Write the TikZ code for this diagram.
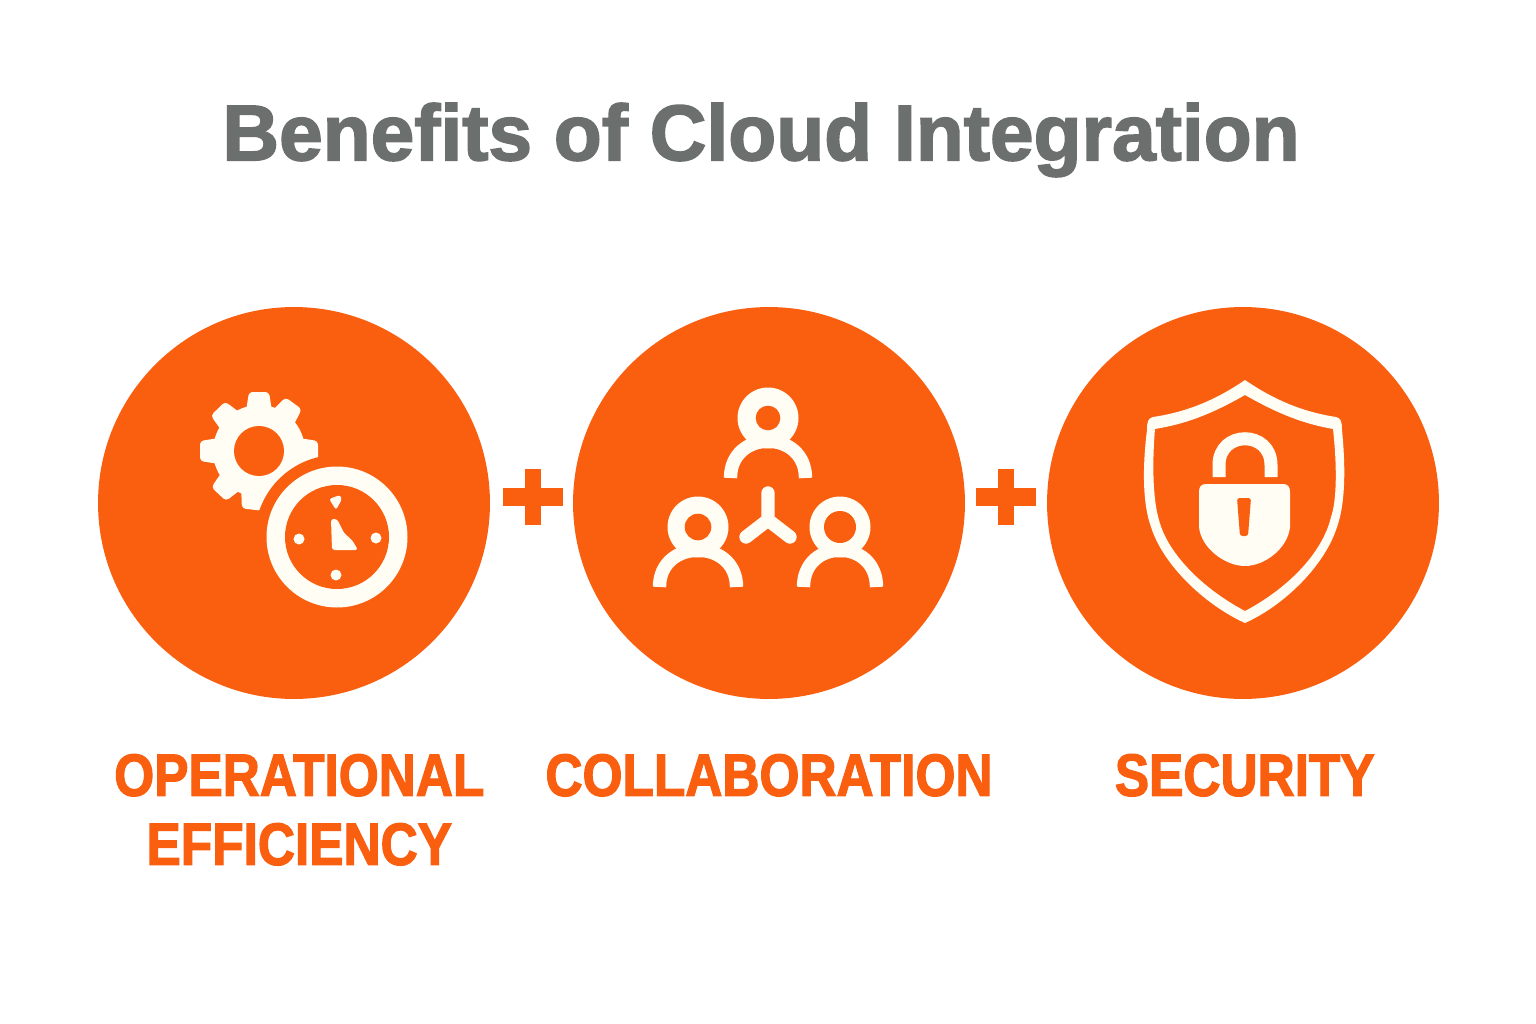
\documentclass[tikz,border=0pt]{standalone}
\usepackage{fontspec}
\setmainfont{Liberation Sans}
\newfontface\titlefont[FakeBold=2,FakeStretch=0.993]{Liberation Sans Bold}
\newfontface\capfont[FakeBold=2,FakeStretch=0.86]{Liberation Sans Bold}
\usetikzlibrary{positioning}
\definecolor{brandorange}{HTML}{FA5E0F}
\definecolor{iconcream}{HTML}{FFFDF4}
\definecolor{titlegray}{HTML}{6B6F6E}
\tikzset{
  bigdisc/.style={circle,fill=brandorange,minimum size=7.84cm,inner sep=0pt},
  plusmark/.style={minimum width=0pt,minimum height=0pt,inner sep=0pt},
  caption/.style={text=brandorange,font=\fontsize{34}{39.3}\capfont,align=center,anchor=north,inner sep=0pt},
  iconline/.style={draw=iconcream,line width=7.6pt}
}
\begin{document}
\begin{tikzpicture}[x=0.02cm,y=-0.02cm]
\useasboundingbox (0,0) rectangle (1536,1024);
\fill[white] (0,0) rectangle (1536,1024);

\node (title) at (761,140) [text=titlegray,font=\fontsize{45}{50}\titlefont] {Benefits of Cloud Integration};

\foreach \n/\x in {1/294, 2/769, 3/1243} {
\node (disc\n) at (\x,503) [bigdisc] {};
}
\node (cap1) [caption,below=31pt of disc1,xshift=3pt] {OPERATIONAL\\EFFICIENCY};
\node (cap2) [caption,below=31pt of disc2] {COLLABORATION};
\node (cap3) [caption,below=31pt of disc3,xshift=1pt] {SECURITY};

% plus signs
\foreach \n/\x in {1/533, 2/1006} {
\node (plus\n) at (\x,497) [plusmark] {};
\fill[brandorange] ([xshift=-17pt,yshift=-5.1pt]plus\n.center) rectangle ([xshift=17pt,yshift=5.1pt]plus\n.center);
\fill[brandorange] ([xshift=-4.3pt,yshift=-15.7pt]plus\n.center) rectangle ([xshift=4.3pt,yshift=15.7pt]plus\n.center);
}

% gear
\foreach \a in {0,54,90,134,180,227,263,315} {
\fill[iconcream,rounded corners=2pt,shift={(259,451)},rotate=\a] (40,-13) -- (59,-10) -- (59,10) -- (40,13) -- cycle;
}
\fill[iconcream] (259,451) circle (46);
\fill[brandorange] (259,451) circle (25);
\fill[brandorange] (337,537) circle (82);

% clock
\fill[iconcream] (337,537) circle (70.5);
\fill[brandorange] (337,537) circle (52);
\foreach \x/\y in {299/539, 376/538, 336/575} {
\fill[iconcream] (\x,\y) circle (5.5);
}
\fill[iconcream,rounded corners=1.5pt] (329,499) -- (340,495) -- (342,499) -- (336,510) -- (333,505) -- cycle;
\fill[iconcream,rounded corners=1.5pt] (331,519) -- (337,519) -- (344,533) -- (352,540) -- (358,550) -- (332,550) -- cycle;

% people
\foreach \x/\y/\r/\w in {768/418/12.3/37.5, 698/527/13.3/38.5, 840/527/16/36.5} {
\draw[iconline] (\x-\w,\y+60) .. controls (\x-\w,\y+11) and (\x+\w,\y+11) .. (\x+\w,\y+60);
\fill[iconcream] (\x,\y) circle (30.5);
\fill[brandorange] (\x,\y) circle (\r);
}
\draw[iconline,line cap=round,line join=round] (768,493) -- (768,520) (746,537) -- (768,520) -- (790,537);

% shield
\fill[iconcream,even odd rule] (1245,380) .. controls (1280,404) and (1310,413) .. (1336,417)
  .. controls (1341,418) and (1342,422) .. (1342,430)
  .. controls (1346,470) and (1345,505) .. (1337,527)
  .. controls (1325,565) and (1285,605) .. (1245,623)
  .. controls (1205,605) and (1163,565) .. (1151,527)
  .. controls (1143,505) and (1142,470) .. (1147,430)
  .. controls (1147,422) and (1148,418) .. (1153,417)
  .. controls (1180,413) and (1210,404) .. (1245,380) -- cycle
  (1245,395) .. controls (1280,415) and (1305,424) .. (1333,429)
  .. controls (1337,465) and (1337,500) .. (1331,517)
  .. controls (1322,555) and (1285,590) .. (1245,611)
  .. controls (1205,590) and (1168,555) .. (1159,520)
  .. controls (1153,500) and (1152,465) .. (1155,429)
  .. controls (1185,424) and (1210,415) .. (1245,395) -- cycle;

% lock
\draw[iconline,line width=7.4pt] (1219,477) -- (1219,465) .. controls (1219,430) and (1271,430) .. (1271,465) -- (1271,477);
\fill[iconcream] (1206,484) -- (1283,484) .. controls (1288,484) and (1290,487) .. (1290,492)
  -- (1290,527) .. controls (1288,548) and (1265,566) .. (1245,566)
  .. controls (1225,566) and (1201,548) .. (1199,527) -- (1199,492)
  .. controls (1199,487) and (1201,484) .. (1206,484) -- cycle;
\fill[brandorange,rounded corners=1.5pt] (1237,498) -- (1251,498) -- (1248,536) -- (1240,536) -- cycle;
\end{tikzpicture}
\end{document}
